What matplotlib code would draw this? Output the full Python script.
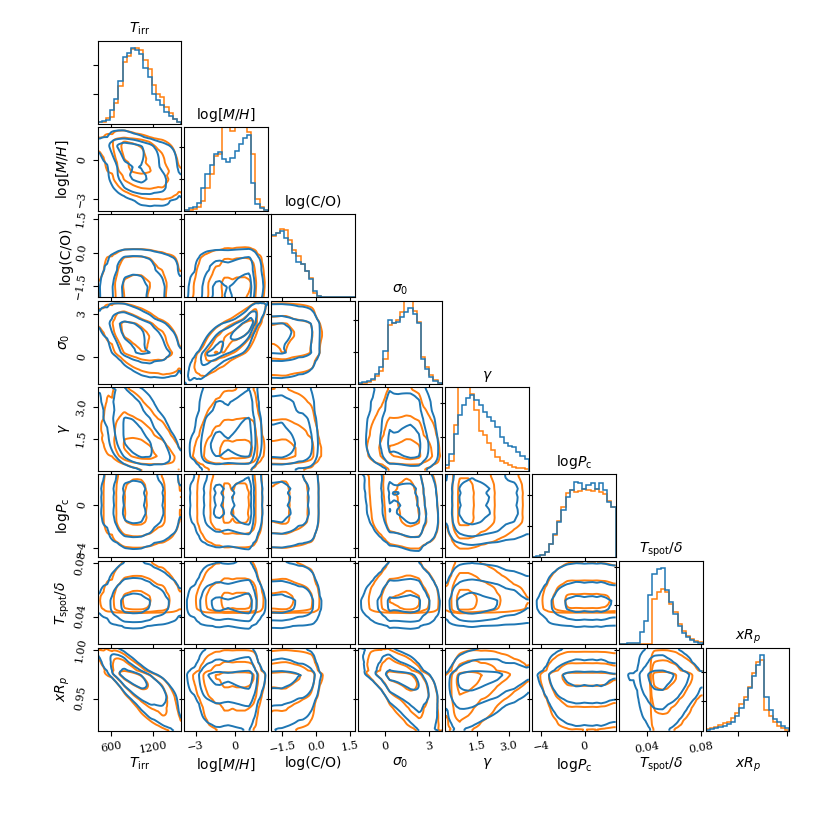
import math
import numpy as np
import matplotlib
matplotlib.use("Agg")
import matplotlib.pyplot as plt

# ---------------- data ----------------
names = [r"$T_{\rm irr}$", r"$\log[M/H]$", "log(C/O)", r"$\sigma_0$",
         r"$\gamma$", r"log$P_{\rm c}$", r"$T_{\rm spot}/\delta$", r"$xR_p$"]

ranges = [(400, 1600), (-3.85, 2.5), (-1.98, 1.71), (-1.86, 3.9),
          (0.0, 3.95), (-4.87, 2.88), (0.0195, 0.0815), (0.917, 1.0026)]

ticks = [[600, 1200], [-3, 0], [-1.5, 0.0, 1.5], [0, 3],
         [1.5, 3.0], [-4, 0], [0.04, 0.08], [0.95, 1.00]]
tick_text = [["600", "1200"], ["\u22123", "0"], ["\u22121.5", "0.0", "1.5"], ["0", "3"],
             ["1.5", "3.0"], ["\u22124", "0"], ["0.04", "0.08"], ["0.95", "1.00"]]

# left-side tick step of each 1-D histogram (in units of the blue peak)
diag_tick = [0.39, 0.42, 0.63, 0.42, 0.45, 0.41, 0.51, 0.39]

# 20-bin histogram heights, relative to the blue peak
tirr_blue = [0.02, 0.04, 0.05, 0.18, 0.33, 0.57, 0.88, 0.94, 1.00, 0.98,
             0.93, 0.74, 0.62, 0.40, 0.32, 0.25, 0.16, 0.10, 0.07, 0.03]
tirr_orange = [0.02, 0.03, 0.08, 0.09, 0.27, 0.50, 0.82, 0.90, 0.99, 1.00,
               0.98, 0.84, 0.72, 0.52, 0.40, 0.36, 0.22, 0.14, 0.07, 0.03]
mh_blue = [0.01, 0.03, 0.04, 0.10, 0.30, 0.48, 0.60, 0.75, 0.77, 0.68,
           0.64, 0.70, 0.79, 0.88, 0.96, 1.00, 0.37, 0.08, 0.03, 0.01]
mh_orange = [0.01, 0.01, 0.02, 0.05, 0.12, 0.30, 0.48, 0.72, 0.75, 1.15,
             1.15, 1.05, 1.15, 1.15, 1.15, 1.04, 0.75, 0.15, 0.04, 0.01]
co_blue = [0.95, 0.976, 1.00, 0.89, 0.80, 0.67, 0.53, 0.51, 0.40, 0.27,
           0.09, 0.02, 0.006, 0.004, 0.003, 0.002, 0.002, 0.001, 0.001, 0.001]
co_orange = [0.93, 0.97, 1.03, 1.02, 0.86, 0.71, 0.62, 0.51, 0.40, 0.29,
             0.07, 0.02, 0.01, 0.008, 0.006, 0.005, 0.004, 0.003, 0.002, 0.002]
sig_blue = [0.01, 0.02, 0.04, 0.07, 0.13, 0.22, 0.44, 0.85, 0.80, 0.82,
            0.89, 0.95, 1.00, 0.93, 0.80, 0.33, 0.20, 0.09, 0.04, 0.01]
sig_orange = [0.005, 0.01, 0.02, 0.05, 0.10, 0.17, 0.33, 0.78, 0.80, 0.85,
              0.95, 1.12, 1.12, 0.96, 0.82, 0.35, 0.22, 0.12, 0.05, 0.01]
gam_blue = [0.07, 0.22, 0.49, 0.73, 0.87, 0.96, 1.00, 0.94, 0.87, 0.78,
            0.71, 0.65, 0.58, 0.45, 0.36, 0.33, 0.31, 0.245, 0.20, 0.16]
gam_orange = [0.04, 0.13, 0.60, 1.20, 1.20, 1.20, 1.02, 0.80, 0.53, 0.47,
              0.36, 0.27, 0.18, 0.13, 0.10, 0.07, 0.05, 0.04, 0.03, 0.02]
pc_blue = [0.01, 0.02, 0.035, 0.07, 0.18, 0.31, 0.47, 0.62, 0.80, 0.89,
           1.00, 0.98, 0.91, 0.96, 0.98, 0.91, 0.99, 0.89, 0.73, 0.67]
pc_orange = [0.005, 0.01, 0.03, 0.07, 0.17, 0.30, 0.48, 0.66, 0.85, 0.89,
             0.87, 0.88, 0.90, 0.89, 0.88, 0.90, 0.86, 0.84, 0.75, 0.66]
spot_blue = [0.0, 0.005, 0.01, 0.01, 0.02, 0.16, 0.31, 0.65, 0.93, 0.99,
             1.00, 0.71, 0.56, 0.40, 0.24, 0.15, 0.09, 0.05, 0.03, 0.015]
spot_orange = [0.0, 0.0, 0.0, 0.0, 0.0, 0.0, 0.0, 0.0, 0.60, 0.69,
               0.73, 0.69, 0.53, 0.42, 0.26, 0.17, 0.11, 0.07, 0.04, 0.025]
rp_blue = [0.013, 0.02, 0.03, 0.045, 0.06, 0.085, 0.12, 0.19, 0.30, 0.41,
           0.56, 0.72, 0.87, 1.00, 0.45, 0.27, 0.16, 0.11, 0.06, 0.03]
rp_orange = [0.02, 0.04, 0.05, 0.075, 0.10, 0.12, 0.165, 0.23, 0.36, 0.45,
             0.58, 0.76, 0.91, 0.94, 0.27, 0.19, 0.11, 0.06, 0.03, 0.01]

# pairwise correlations (row parameter vs column parameter), lower triangle
rho_blue = [[],
            [-0.40],
            [0.0, 0.05],
            [-0.50, 0.85, 0.0],
            [-0.50, 0.10, 0.0, -0.10],
            [0.0, 0.0, 0.0, -0.15, 0.0],
            [0.0, 0.0, 0.0, 0.0, 0.0, 0.0],
            [-0.80, 0.0, 0.05, -0.60, 0.30, 0.0, 0.0]]
rho_orange = [[],
              [-0.40],
              [0.0, 0.05],
              [-0.50, 0.80, 0.0],
              [-0.45, 0.10, 0.0, -0.10],
              [0.0, 0.0, 0.0, -0.15, 0.0],
              [0.0, 0.0, 0.0, 0.0, 0.0, 0.0],
              [-0.80, 0.0, 0.05, -0.60, 0.30, 0.0, 0.0]]

# enclosed probability of the three contours (1, 2, 3 sigma in 2-D)
levels = [0.393, 0.865, 0.989]

blue_c = "#1f77b4"
orange_c = "#ff7f0e"

series = [
    (orange_c, [tirr_orange, mh_orange, co_orange, sig_orange, gam_orange,
                pc_orange, spot_orange, rp_orange], rho_orange),
    (blue_c, [tirr_blue, mh_blue, co_blue, sig_blue, gam_blue,
              pc_blue, spot_blue, rp_blue], rho_blue),
]

# ---------------- helpers ----------------
NG = 70
zt = np.linspace(-6.5, 6.5, 3001)
Pt = 0.5 * (1.0 + np.vectorize(math.erf)(zt / math.sqrt(2.0)))


def marginal(heights, rng):
    h = np.asarray(heights, float)
    edges = np.linspace(rng[0], rng[1], len(h) + 1)
    centers = 0.5 * (edges[1:] + edges[:-1])
    g = np.linspace(rng[0], rng[1], NG)
    f = np.clip(np.interp(g, centers, h), 0, None)
    F = (np.cumsum(f) - 0.5 * f) / f.sum()
    F = np.clip(F, 1e-7, 1 - 1e-7)
    z = np.interp(F, Pt, zt)
    return g, f, z


def contour_levels(H):
    flat = H.ravel()
    idx = np.argsort(flat)[::-1]
    hs = flat[idx]
    cs = np.cumsum(hs)
    cs /= cs[-1]
    V = []
    for lv in levels:
        sel = hs[cs <= lv]
        V.append(sel[-1] if len(sel) else hs[0])
    V = np.sort(np.array(V))
    for k in range(1, len(V)):
        if V[k] <= V[k - 1]:
            V[k] = V[k - 1] * 1.0001 + 1e-12
    return V


# ---------------- figure ----------------
fig = plt.figure(figsize=(8.3, 8.3), dpi=100)
axes = fig.subplots(8, 8, gridspec_kw=dict(left=0.1175, right=0.9512, bottom=0.1196,
                                           top=0.951, wspace=0.04, hspace=0.043))
n = len(names)
tick_kw = dict(fontfamily="DejaVu Serif", fontsize=8)

for i in range(n):
    for j in range(n):
        ax = axes[i, j]
        if j > i:
            ax.set_visible(False)
            continue
        if i == j:
            edges = np.linspace(ranges[i][0], ranges[i][1], 21)
            for color, hists, _ in series:
                ax.stairs(hists[i], edges, color=color, lw=1.1)
            ax.set_xlim(ranges[i])
            ax.set_ylim(0, 1.1)
            ax.set_yticks([diag_tick[i], 2 * diag_tick[i]])
            ax.set_yticklabels([])
            ax.set_title(names[i], fontsize=10)
        else:
            for color, hists, rho in series:
                gx, fx, zx = marginal(hists[j], ranges[j])
                gy, fy, zy = marginal(hists[i], ranges[i])
                r = rho[i][j]
                A = zx[None, :]
                B = zy[:, None]
                cop = np.exp(-(r * r * (A * A + B * B) - 2 * r * A * B) / (2 * (1 - r * r))) / math.sqrt(1 - r * r)
                H = fy[:, None] * fx[None, :] * cop
                X, Y = np.meshgrid(gx, gy)
                ax.contour(X, Y, H, contour_levels(H), colors=color, linewidths=1.4)
            ax.set_xlim(ranges[j])
            ax.set_ylim(ranges[i])
            ax.set_yticks(ticks[i])
            if j == 0:
                ax.set_yticklabels(tick_text[i], rotation=80, va="center", **tick_kw)
                ax.set_ylabel(names[i], fontsize=10)
                ax.yaxis.set_label_coords(-0.3, 0.5)
            else:
                ax.set_yticklabels([])
        ax.set_xticks(ticks[j])
        if i == n - 1:
            if j < n - 1:
                ax.set_xticklabels(tick_text[j], rotation=10, **tick_kw)
            else:
                ax.set_xticklabels([])
            ax.set_xlabel(names[j], fontsize=10)
            ax.xaxis.set_label_coords(0.5, -0.3)
        else:
            ax.set_xticklabels([])

fig.savefig("out.png", dpi=100)
